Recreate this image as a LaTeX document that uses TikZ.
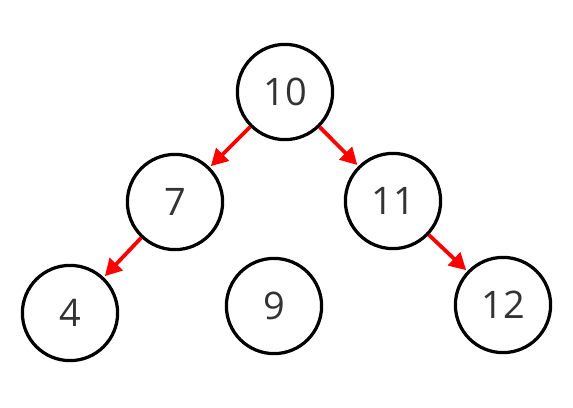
\documentclass[tikz,border=0pt]{standalone}
\usepackage{fontspec}
\setsansfont{Open Sans}
\usetikzlibrary{arrows.meta}
\usepackage{xcolor}

\begin{document}
\begin{tikzpicture}[
  x=0.025cm, y=-0.025cm,
  num/.style={circle, draw=black, line width=2.3pt, minimum size=2.38cm, inner sep=0pt,
              font=\sffamily\fontsize{27}{27}\selectfont, text=black!80},
  link/.style={-{Triangle[length=4.2mm, width=4.4mm]}, line width=2.7pt, red, shorten >=1pt}
]
\useasboundingbox (0,0) rectangle (573,408);

\node[num] (n10) at (285,92) {10};
\node[num] (n7)  at (175,202) {7};
\node[num] (n11) at (393,201) {11};
\node[num] (n4)  at (70,313) {4};
\node[num] (n9)  at (274,306) {9};
\node[num] (n12) at (503,305) {12};

\draw[link] (n10) -- (n7);
\draw[link] (n10) -- (n11);
\draw[link] (n7) -- (n4);
\draw[link] (n11) -- (n12);
\end{tikzpicture}
\end{document}
